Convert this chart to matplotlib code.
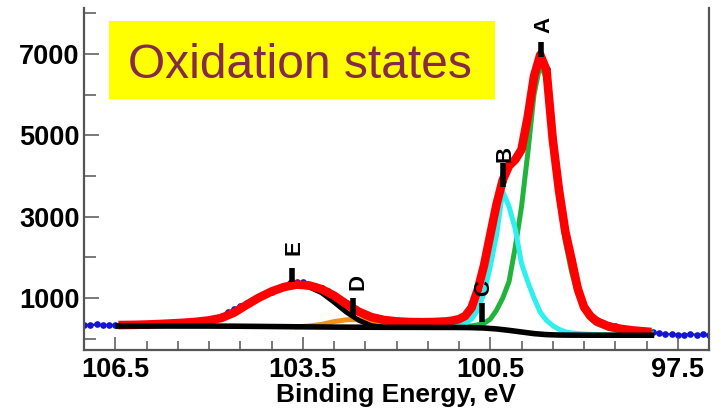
import matplotlib
matplotlib.use("Agg")
import matplotlib.pyplot as plt
from matplotlib.patches import Rectangle

plt.rcParams['font.family'] = ['Liberation Sans', 'DejaVu Sans']

# ---- measured Si 2p spectrum (binding energy, counts) ----
data_be = [107.0, 106.9, 106.8, 106.7, 106.6, 106.5, 106.4, 106.3, 106.2, 106.1,
           106.0, 105.9, 105.8, 105.7, 105.6, 105.5, 105.4, 105.3, 105.2, 105.1,
           105.0, 104.9, 104.8, 104.7, 104.6, 104.5, 104.4, 104.3, 104.2, 104.1,
           104.0, 103.9, 103.8, 103.7, 103.6, 103.5, 103.4, 103.3, 103.2, 103.1,
           103.0, 102.9, 102.8, 102.7, 102.6, 102.5, 102.4, 102.3, 102.2, 102.1,
           102.0, 101.9, 101.8, 101.7, 101.6, 101.5, 101.4, 101.3, 101.2, 101.1,
           101.0, 100.9, 100.8, 100.7, 100.6, 100.5, 100.4, 100.3, 100.2, 100.1,
           100.0, 99.9, 99.8, 99.7, 99.6, 99.5, 99.4, 99.3, 99.2, 99.1,
           99.0, 98.9, 98.8, 98.7, 98.6, 98.5, 98.4, 98.3, 98.2, 98.1,
           98.0, 97.9, 97.8, 97.7, 97.6, 97.5, 97.4, 97.3, 97.2, 97.1, 97.0]
data_counts = [345, 335, 350, 330, 340, 325, 338, 345, 330, 352,
               345, 355, 368, 360, 380, 378, 392, 405, 418, 440,
               470, 500, 560, 660, 720, 800, 880, 960, 1030, 1110,
               1160, 1250, 1300, 1360, 1390, 1385, 1330, 1300, 1250, 1170,
               1080, 960, 880, 760, 680, 600, 540, 490, 465, 440,
               430, 415, 405, 415, 400, 410, 420, 415, 430, 450,
               490, 580, 770, 1210, 1820, 2540, 3280, 3880, 4330, 4420,
               4680, 5420, 6430, 6990, 6620, 4920, 3620, 2650, 1940, 1240,
               790, 590, 455, 380, 335, 300, 270, 240, 215, 195,
               180, 160, 130, 115, 108, 102, 96, 110, 95, 104, 92]

# ---- fit envelope ----
fit_be = [106.45, 106.2, 106.0, 105.8, 105.6, 105.4, 105.2, 105.0, 104.8, 104.6,
          104.4, 104.2, 104.0, 103.8, 103.6, 103.4, 103.2, 103.0, 102.8, 102.6,
          102.4, 102.2, 102.0, 101.8, 101.6, 101.4, 101.2, 101.1, 101.0, 100.9,
          100.8, 100.7, 100.6, 100.5, 100.4, 100.3, 100.2, 100.1, 100.0, 99.9,
          99.8, 99.7, 99.6, 99.5, 99.4, 99.3, 99.2, 99.1, 99.0, 98.9,
          98.8, 98.6, 98.4, 98.2, 97.92]
fit_counts = [335, 340, 348, 360, 375, 392, 415, 450, 510, 640,
              830, 1010, 1160, 1270, 1330, 1310, 1220, 1060, 850, 660,
              530, 460, 425, 410, 405, 410, 425, 445, 480, 560,
              760, 1200, 1800, 2550, 3300, 3900, 4250, 4400, 4650, 5450,
              6450, 6980, 6600, 4900, 3650, 2640, 1950, 1230, 780, 560,
              430, 300, 240, 200, 165]

# ---- Shirley background ----
bg_be = [106.45, 105.0, 104.6, 104.2, 103.8, 103.4, 103.0, 102.6, 102.2, 101.8,
         101.0, 100.8, 100.6, 100.4, 100.2, 100.0, 99.8, 99.6, 99.4, 99.2,
         99.0, 98.5, 97.92]
bg_counts = [312, 310, 307, 302, 296, 290, 285, 282, 280, 279,
             276, 272, 262, 240, 205, 165, 125, 100, 90, 87,
             86, 85, 85]

# ---- component A (Si0) ----
a_be = [101.4, 101.2, 101.0, 100.9, 100.8, 100.7, 100.6, 100.5, 100.4, 100.3,
        100.2, 100.1, 100.0, 99.9, 99.8, 99.7, 99.6, 99.5, 99.4, 99.3,
        99.2, 99.1, 99.0, 98.9, 98.8, 98.6, 98.4, 98.2, 97.92]
a_counts = [280, 282, 290, 300, 315, 340, 380, 480, 700, 1000,
            1400, 2250, 3240, 4550, 6000, 6750, 6400, 4900, 3450, 2400,
            1650, 1100, 720, 500, 370, 250, 190, 160, 140]

# ---- component B ----
b_be = [101.4, 101.2, 101.0, 100.9, 100.8, 100.7, 100.6, 100.5, 100.4, 100.3,
        100.2, 100.1, 100.0, 99.9, 99.8, 99.7, 99.6, 99.5, 99.4, 99.3,
        99.2, 99.0, 98.8, 98.5, 98.2, 97.92]
b_counts = [282, 300, 340, 380, 480, 700, 1120, 1770, 2550, 3620,
            3250, 2700, 1850, 1400, 1000, 650, 450, 320, 230, 170,
            140, 115, 100, 90, 86, 85]

# ---- component D ----
d_be = [103.6, 103.4, 103.2, 103.0, 102.8, 102.6, 102.4, 102.2, 102.0, 101.8, 101.6]
d_counts = [292, 312, 350, 420, 465, 470, 430, 365, 315, 290, 281]

# ---- component E ----
e_be = [106.45, 106.0, 105.6, 105.2, 105.0, 104.8, 104.6, 104.4, 104.2, 104.0,
        103.8, 103.6, 103.4, 103.2, 103.0, 102.8, 102.6, 102.4, 102.2]
e_counts = [312, 318, 335, 375, 410, 480, 620, 810, 990, 1140,
            1250, 1300, 1270, 1130, 900, 650, 450, 320, 284]

# ---- peak markers and labels ----
peak_names = ['A', 'B', 'C', 'D', 'E']
mark_be = [99.69, 100.29, 100.63, 102.70, 103.67]
mark_lo = [6927, 3730, 410, 530, 1390]
mark_hi = [7296, 4320, 880, 1000, 1740]
label_be = [99.64, 100.26, 100.60, 102.61, 103.64]
label_counts = [7714, 4537, 1245, 1393, 2230]

x_major = [106.5, 103.5, 100.5, 97.5]
x_minor = [107.0 - 0.5 * i for i in range(21)]
y_major = [1000, 3000, 5000, 7000]
y_minor = [0, 2000, 4000, 6000, 8000]

fig = plt.figure(figsize=(7.21, 4.18), dpi=100)
ax = fig.add_axes([84 / 721, 68 / 418, 625 / 721, 342 / 418])

ax.plot(data_be, data_counts, color='#1414D2', lw=1.5, marker='o', ms=4.8,
        mec='none', zorder=1)
ax.plot(a_be, a_counts, color='#22B33C', lw=3.6, zorder=2,
        solid_joinstyle='round')
ax.plot(b_be, b_counts, color='#2EF0EE', lw=3.6, zorder=2.2,
        solid_joinstyle='round')
ax.plot(d_be, d_counts, color='#F0921A', lw=3.6, zorder=2.1,
        solid_joinstyle='round')
ax.plot(e_be, e_counts, color='black', lw=3.6, zorder=3,
        solid_joinstyle='round')
ax.plot(fit_be, fit_counts, color='#FF0000', lw=6.2, zorder=4,
        solid_joinstyle='round', solid_capstyle='butt')
ax.plot(bg_be, bg_counts, color='black', lw=4, zorder=5,
        solid_joinstyle='round')

for name, mb, lo, hi, lb, lc in zip(peak_names, mark_be, mark_lo, mark_hi,
                                    label_be, label_counts):
    ax.plot([mb, mb], [lo, hi], color='black', lw=4, solid_capstyle='butt',
            zorder=6)
    ax.text(lb, lc, name, rotation=90, ha='center', va='center',
            fontsize=16, fontweight='bold', color='black', zorder=7)

ax.set_xlim(107.0, 97.0)
ax.set_ylim(-278, 8130)

ax.set_xticks(x_major)
ax.set_xticklabels([f'{v:.1f}' for v in x_major])
ax.set_xticks(x_minor, minor=True)
ax.set_yticks(y_major)
ax.set_yticklabels([str(v) for v in y_major])
ax.set_yticks(y_minor, minor=True)

spine_col = '#555555'
for side in ('left', 'right', 'bottom'):
    ax.spines[side].set_color(spine_col)
    ax.spines[side].set_linewidth(1.6)
ax.spines['top'].set_visible(False)

ax.tick_params(axis='x', which='major', direction='in', length=9.5, width=1.1,
               color=spine_col, pad=5, labelsize=19.5)
ax.tick_params(axis='x', which='minor', direction='in', length=6.5, width=1.1,
               color=spine_col)
ax.tick_params(axis='y', which='major', direction='in', length=10.5, width=1.1,
               color=spine_col, pad=3, labelsize=19.5)
ax.tick_params(axis='y', which='minor', direction='in', length=8.5, width=1.1,
               color=spine_col)
for lbl in ax.get_xticklabels() + ax.get_yticklabels():
    lbl.set_fontweight('bold')

ax.set_xlabel('Binding Energy, eV', fontsize=19, fontweight='bold', labelpad=0)

# title banner
ax.add_patch(Rectangle((0.04, 0.734), 0.6176, 0.228, transform=ax.transAxes,
                       facecolor='#FFFF00', edgecolor='none', zorder=8))
ax.text(0.3456, 0.795, 'Oxidation states', transform=ax.transAxes,
        ha='center', va='baseline', fontsize=34.5, color='#862A4C', zorder=9)

fig.savefig('out.png', dpi=100, facecolor='white')
